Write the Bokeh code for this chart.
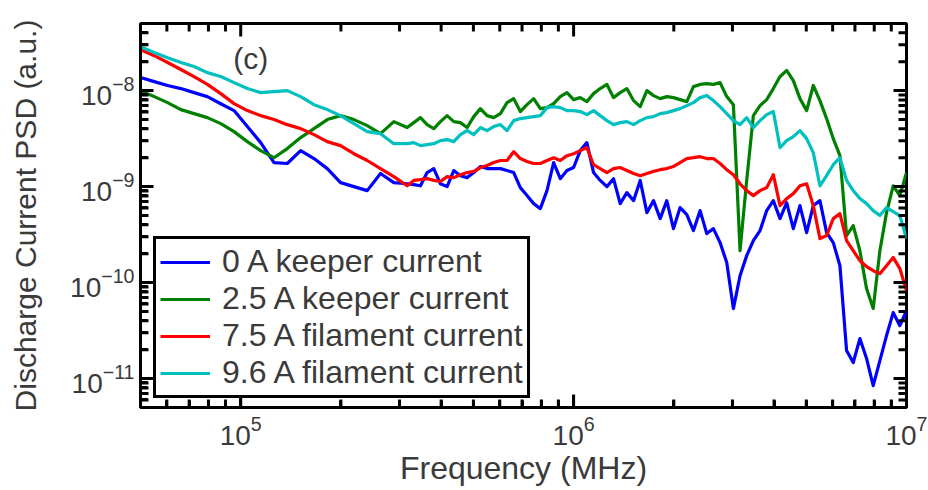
import numpy as np
from bokeh.plotting import figure
from bokeh.models import (FixedTicker, Legend, LegendItem, Label, Range1d,
                          ColumnDataSource)
from bokeh.embed import file_html
from bokeh.resources import INLINE

# Frequency grid shared by all four spectra (Hz)
freq_hz = [
    5.00e4, 5.50e4, 6.03e4, 6.61e4, 7.24e4, 7.94e4, 8.71e4, 9.55e4, 1.047e5, 1.148e5,
    1.259e5, 1.380e5, 1.514e5, 1.660e5, 1.820e5, 1.995e5, 2.188e5, 2.399e5, 2.630e5, 2.884e5,
    3.162e5, 3.311e5, 3.467e5, 3.631e5, 3.802e5, 3.981e5, 4.169e5, 4.365e5, 4.571e5, 4.786e5,
    5.012e5, 5.248e5, 5.495e5, 5.754e5, 6.026e5, 6.310e5, 6.607e5, 6.918e5, 7.244e5, 7.586e5,
    7.943e5, 8.318e5, 8.710e5, 9.120e5, 9.550e5, 1.000e6, 1.047e6, 1.096e6, 1.148e6, 1.202e6,
    1.259e6, 1.318e6, 1.380e6, 1.445e6, 1.514e6, 1.585e6, 1.660e6, 1.738e6, 1.820e6, 1.905e6,
    1.995e6, 2.089e6, 2.188e6, 2.291e6, 2.399e6, 2.512e6, 2.630e6, 2.754e6, 2.884e6, 3.020e6,
    3.162e6, 3.311e6, 3.467e6, 3.631e6, 3.802e6, 3.981e6, 4.169e6, 4.365e6, 4.571e6, 4.786e6,
    5.012e6, 5.248e6, 5.495e6, 5.754e6, 6.026e6, 6.310e6, 6.607e6, 6.918e6, 7.244e6, 7.586e6,
    7.943e6, 8.318e6, 8.710e6, 9.120e6, 9.550e6, 1.000e7,
]

# Discharge current PSD (a.u.) for each operating condition
psd_keeper_0a = [
    1.37e-8, 1.24e-8, 1.13e-8, 1.05e-8, 9.53e-9, 8.66e-9, 7.30e-9, 6.19e-9, 4.22e-9, 2.87e-9,
    1.78e-9, 1.74e-9, 2.37e-9, 1.96e-9, 1.54e-9, 1.10e-9, 1.00e-9, 9.08e-10, 1.37e-9, 1.10e-9,
    1.07e-9, 1.05e-9, 1.02e-9, 1.40e-9, 1.54e-9, 1.07e-9, 1.00e-9, 1.47e-9, 1.30e-9, 1.24e-9,
    1.40e-9, 1.62e-9, 1.54e-9, 1.54e-9, 1.54e-9, 1.47e-9, 1.40e-9, 9.76e-10, 8.06e-10, 6.65e-10,
    5.90e-10, 9.08e-10, 1.78e-9, 1.21e-9, 1.47e-9, 1.58e-9, 2.37e-9, 2.87e-9, 1.40e-9, 1.16e-9,
    1.00e-9, 1.21e-9, 6.65e-10, 8.66e-10, 7.14e-10, 1.16e-9, 5.36e-10, 7.14e-10, 4.64e-10, 7.14e-10,
    3.65e-10, 6.05e-10, 5.11e-10, 3.48e-10, 5.62e-10, 3.24e-10, 3.65e-10, 2.61e-10, 1.62e-10, 5.36e-11,
    1.18e-10, 1.91e-10, 2.74e-10, 3.48e-10, 5.62e-10, 7.14e-10, 4.64e-10, 6.81e-10, 3.65e-10, 6.34e-10,
    3.32e-10, 6.34e-10, 7.14e-10, 3.32e-10, 2.61e-10, 1.50e-10, 1.96e-11, 1.47e-11, 2.61e-11, 1.62e-11,
    8.45e-12, 1.54e-11, 2.80e-11, 4.87e-11, 3.56e-11, 5.11e-11,
]
psd_keeper_2p5a = [
    1.00e-8, 8.66e-9, 7.50e-9, 6.34e-9, 5.76e-9, 5.23e-9, 4.53e-9, 3.74e-9, 2.94e-9, 2.37e-9,
    2.00e-9, 2.49e-9, 3.24e-9, 4.02e-9, 4.99e-9, 5.49e-9, 4.99e-9, 4.32e-9, 3.56e-9, 4.75e-9,
    4.12e-9, 4.64e-9, 5.23e-9, 4.42e-9, 4.02e-9, 4.75e-9, 5.49e-9, 4.75e-9, 4.64e-9, 4.12e-9,
    5.36e-9, 6.49e-9, 5.49e-9, 5.23e-9, 5.76e-9, 7.50e-9, 8.25e-9, 6.05e-9, 7.14e-9, 8.25e-9,
    6.49e-9, 6.65e-9, 7.32e-9, 8.66e-9, 9.53e-9, 8.06e-9, 8.45e-9, 7.68e-9, 9.30e-9, 1.05e-8,
    1.16e-8, 8.45e-9, 9.53e-9, 1.05e-8, 7.87e-9, 6.81e-9, 1.00e-8, 8.87e-9, 8.25e-9, 8.66e-9,
    8.45e-9, 8.06e-9, 7.68e-9, 1.10e-8, 1.16e-8, 1.18e-8, 1.16e-8, 1.21e-8, 8.66e-9, 7.14e-9,
    2.15e-10, 1.16e-9, 5.49e-9, 6.98e-9, 8.06e-9, 1.05e-8, 1.40e-8, 1.62e-8, 1.27e-8, 8.25e-9,
    6.19e-9, 1.13e-8, 7.87e-9, 5.11e-9, 3.16e-9, 2.10e-9, 3.09e-10, 3.93e-10, 2.15e-10, 8.66e-11,
    5.36e-11, 2.15e-10, 5.36e-10, 1.02e-9, 8.06e-10, 1.40e-9,
]
psd_filament_7p5a = [
    2.67e-8, 2.31e-8, 1.96e-8, 1.66e-8, 1.40e-8, 1.16e-8, 9.30e-9, 7.32e-9, 6.19e-9, 5.49e-9,
    4.99e-9, 4.42e-9, 4.02e-9, 3.48e-9, 2.94e-9, 2.67e-9, 2.20e-9, 1.87e-9, 1.54e-9, 1.27e-9,
    1.02e-9, 1.16e-9, 1.18e-9, 1.21e-9, 1.16e-9, 1.13e-9, 1.27e-9, 1.24e-9, 1.33e-9, 1.40e-9,
    1.44e-9, 1.58e-9, 1.66e-9, 1.78e-9, 1.87e-9, 1.87e-9, 2.31e-9, 1.96e-9, 1.83e-9, 1.74e-9,
    1.74e-9, 1.87e-9, 2.00e-9, 1.87e-9, 2.10e-9, 2.20e-9, 2.37e-9, 2.55e-9, 1.69e-9, 1.54e-9,
    1.40e-9, 1.54e-9, 1.58e-9, 1.47e-9, 1.37e-9, 1.30e-9, 1.37e-9, 1.44e-9, 1.50e-9, 1.54e-9,
    1.62e-9, 1.78e-9, 1.96e-9, 2.00e-9, 2.05e-9, 1.96e-9, 1.96e-9, 1.74e-9, 1.50e-9, 1.33e-9,
    1.07e-9, 9.08e-10, 8.06e-10, 9.08e-10, 9.76e-10, 1.33e-9, 6.34e-10, 7.50e-10, 8.45e-10, 1.02e-9,
    1.07e-9, 6.34e-10, 2.87e-10, 3.09e-10, 4.64e-10, 5.23e-10, 2.74e-10, 2.15e-10, 1.69e-10, 1.47e-10,
    1.33e-10, 1.24e-10, 1.50e-10, 1.83e-10, 1.40e-10, 8.25e-11,
]
psd_filament_9p6a = [
    2.87e-8, 2.49e-8, 2.20e-8, 1.96e-8, 1.78e-8, 1.54e-8, 1.40e-8, 1.21e-8, 1.05e-8, 9.53e-9,
    9.76e-9, 1.00e-8, 8.66e-9, 7.14e-9, 6.34e-9, 5.49e-9, 4.53e-9, 3.74e-9, 3.56e-9, 2.80e-9,
    2.80e-9, 2.87e-9, 2.67e-9, 2.74e-9, 2.80e-9, 3.01e-9, 3.09e-9, 2.94e-9, 3.48e-9, 3.83e-9,
    3.48e-9, 4.12e-9, 3.83e-9, 4.22e-9, 4.42e-9, 3.83e-9, 4.87e-9, 5.11e-9, 5.23e-9, 5.36e-9,
    5.49e-9, 6.65e-9, 6.81e-9, 6.65e-9, 6.19e-9, 6.19e-9, 6.05e-9, 5.62e-9, 6.19e-9, 5.49e-9,
    4.87e-9, 4.42e-9, 4.64e-9, 4.75e-9, 4.42e-9, 4.87e-9, 5.23e-9, 5.36e-9, 5.76e-9, 5.90e-9,
    6.19e-9, 6.49e-9, 6.98e-9, 7.50e-9, 8.45e-9, 8.87e-9, 7.87e-9, 6.81e-9, 5.76e-9, 4.87e-9,
    4.42e-9, 5.23e-9, 4.12e-9, 4.87e-9, 5.62e-9, 6.05e-9, 2.55e-9, 3.01e-9, 3.32e-9, 3.83e-9,
    3.16e-9, 2.26e-9, 1.02e-9, 1.30e-9, 1.69e-9, 2.00e-9, 1.16e-9, 9.08e-10, 7.50e-10, 6.65e-10,
    5.62e-10, 4.99e-10, 6.05e-10, 5.49e-10, 4.99e-10, 2.87e-10,
]

series_labels = ["0 A keeper current", "2.5 A keeper current",
                 "7.5 A filament current", "9.6 A filament current"]
series_colors = ["#0000ff", "#008000", "#ff0000", "#00bfbf"]
series_values = [psd_keeper_0a, psd_keeper_2p5a, psd_filament_7p5a, psd_filament_9p6a]

# Axis extents and ticks
x_limits = (5e4, 1e7)
y_limits = (5e-12, 5e-8)
x_major = [1e5, 1e6, 1e7]
y_major = [1e-11, 1e-10, 1e-9, 1e-8]
x_minor = [m * 10.0 ** e for e in (4, 5, 6) for m in range(2, 10)
           if x_limits[0] < m * 10.0 ** e < x_limits[1]]
y_minor = [m * 10.0 ** e for e in (-12, -11, -10, -9, -8) for m in range(2, 10)
           if y_limits[0] < m * 10.0 ** e < y_limits[1]]

FONT = "Liberation Sans"
TEXT_COLOR = "#3a3a3a"
PLOT_W, PLOT_H = 928, 490
BORDER_L, BORDER_R, BORDER_T, BORDER_B = 140, 22, 23, 83

p = figure(width=PLOT_W, height=PLOT_H, x_axis_type="log", y_axis_type="log",
           x_range=Range1d(*x_limits), y_range=Range1d(*y_limits),
           output_backend="svg", toolbar_location=None,
           min_border_left=BORDER_L, min_border_right=BORDER_R,
           min_border_top=BORDER_T, min_border_bottom=BORDER_B,
           x_axis_label="Frequency (MHz)", y_axis_label="Discharge Current PSD (a.u.)")
p.background_fill_color = "white"
p.border_fill_color = "white"
p.xgrid.visible = False
p.ygrid.visible = False
p.outline_line_color = "black"
p.outline_line_width = 3


def style_axis(ax, ticker):
    ax.ticker = ticker
    ax.axis_line_width = 3
    ax.axis_line_color = "black"
    ax.major_tick_in = 12
    ax.major_tick_out = 0
    ax.minor_tick_in = 7
    ax.minor_tick_out = 0
    ax.major_tick_line_width = 3
    ax.minor_tick_line_width = 3
    ax.major_tick_line_color = "black"
    ax.minor_tick_line_color = "black"
    ax.major_label_text_font = FONT
    ax.major_label_text_font_size = "28px"
    ax.major_label_text_color = TEXT_COLOR
    ax.axis_label_text_font = FONT
    ax.axis_label_text_font_style = "normal"
    ax.axis_label_text_font_size = "30px"
    ax.axis_label_text_color = TEXT_COLOR


style_axis(p.xaxis[0], FixedTicker(ticks=x_major, minor_ticks=x_minor))
style_axis(p.yaxis[0], FixedTicker(ticks=y_major, minor_ticks=y_minor))
p.xaxis[0].major_label_standoff = 8
p.xaxis[0].axis_label_standoff = 2
p.xaxis[0].axis_label_text_font_size = "32px"
p.yaxis[0].major_label_standoff = 6
p.yaxis[0].axis_label_standoff = 25

# Spectra
items = []
for label, color, vals in zip(series_labels, series_colors, series_values):
    src = ColumnDataSource(data=dict(f=freq_hz, psd=vals))
    r = p.line("f", "psd", source=src, line_color=color, line_width=3.2,
               line_join="round")
    items.append(LegendItem(label=label, renderers=[r]))

# Inward-pointing ticks on all four edges, drawn as short line pieces that
# start just inside the frame.  A pixel length is a multiplicative step on a
# log axis.
px_per_dec_x = (PLOT_W - BORDER_L - BORDER_R) / np.log10(x_limits[1] / x_limits[0])
px_per_dec_y = (PLOT_H - BORDER_T - BORDER_B) / np.log10(y_limits[1] / y_limits[0])


def step(px, px_per_dec):
    return float(10.0 ** (px / px_per_dec))


START = 1.0
MAJOR_LEN, MINOR_LEN = 12, 7
tick_xs, tick_ys = [], []
for ticks, length in ((x_major, MAJOR_LEN), (x_minor, MINOR_LEN)):
    a, b = step(START, px_per_dec_y), step(START + length, px_per_dec_y)
    for t in ticks:
        tick_xs += [[t, t], [t, t]]
        tick_ys += [[y_limits[0] * a, y_limits[0] * b], [y_limits[1] / a, y_limits[1] / b]]
for ticks, length in ((y_major, MAJOR_LEN), (y_minor, MINOR_LEN)):
    a, b = step(START, px_per_dec_x), step(START + length, px_per_dec_x)
    for t in ticks:
        tick_xs += [[x_limits[0] * a, x_limits[0] * b], [x_limits[1] / a, x_limits[1] / b]]
        tick_ys += [[t, t], [t, t]]
p.multi_line(xs=tick_xs, ys=tick_ys, line_color="black", line_width=3)

legend = Legend(items=items, location=(13, 9))
legend.label_text_font = FONT
legend.label_text_font_size = "32px"
legend.label_text_line_height = 1.0
legend.label_text_color = TEXT_COLOR
legend.glyph_width = 50
legend.glyph_height = 30
legend.label_height = 30
legend.label_standoff = 12
legend.spacing = -1
legend.padding = 4
legend.margin = 0
legend.border_line_color = "black"
legend.border_line_alpha = 1.0
legend.border_line_width = 3
legend.background_fill_color = "white"
legend.background_fill_alpha = 1.0
p.add_layout(legend, "center")

p.add_layout(Label(x=9.5e4, y=2.15e-8, text="(c)", text_font=FONT,
                   text_font_size="30px", text_color=TEXT_COLOR,
                   text_baseline="middle"))

open("out.html", "w").write(file_html(p, INLINE))
